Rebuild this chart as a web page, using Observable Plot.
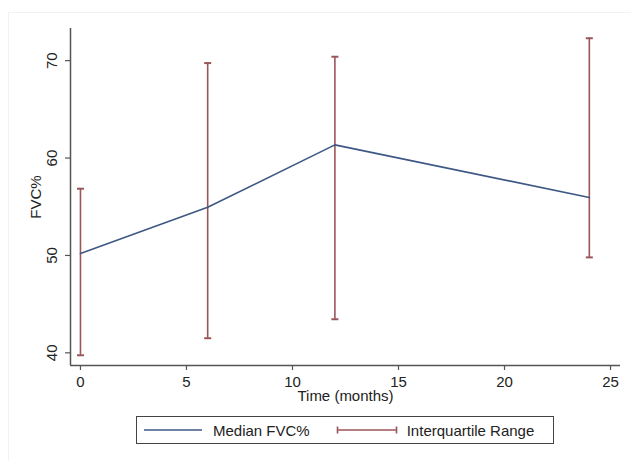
<!DOCTYPE html>
<html>
<head>
<meta charset="utf-8">
<script src="https://cdn.jsdelivr.net/npm/d3@7"></script>
<script src="https://cdn.jsdelivr.net/npm/@observablehq/plot@0.6"></script>
<style>
  html, body { margin: 0; padding: 0; background: #fff; }
  #wrap { position: relative; width: 631px; height: 461px; font-family: "Liberation Sans", Arial, sans-serif; }
  #border { position: absolute; left: 8px; top: 12px; width: 640px; height: 460px; border-left: 1px solid #eef3f8; border-top: 1px solid #eef3f8; }
  #legend { position: absolute; left: 136px; top: 416px; width: 418px; height: 28px; border: 1px solid #444; box-sizing: border-box;
            display: flex; align-items: center; font-size: 15px; color: #222; }
  #legend .item { display: flex; align-items: center; }
  #legend svg { display: block; }
</style>
</head>
<body>
<div id="wrap">
  <div id="border"></div>
  <div id="chart"></div>
  <div id="legend"></div>
</div>
<script>
// Data
const months = [0, 6, 12, 24];
const medianFVC = [50.2, 54.95, 61.35, 55.95];
const q1FVC = [39.75, 41.5, 43.45, 49.8];
const q3FVC = [56.85, 69.75, 70.4, 72.3];
const xTicks = [0, 5, 10, 15, 20, 25];
const yTicks = [40, 50, 60, 70];
const xDomain = [-0.47, 25.47];
const yDomain = [38.7, 73.3];
const seriesNames = ["Median FVC%", "Interquartile Range"];
const lineColor = "#3d5884";
const barColor = "#9a5559";
const axisColor = "#555";

const data = months.map((t, i) => ({t, med: medianFVC[i], lo: q1FVC[i], hi: q3FVC[i]}));

const capSymbol = {
  draw(ctx, size) {
    const w = Math.sqrt(size / Math.PI);
    ctx.moveTo(-w, 0);
    ctx.lineTo(w, 0);
  }
};

const chart = Plot.plot({
  width: 631,
  height: 461,
  marginLeft: 70,
  marginRight: 11,
  marginTop: 28,
  marginBottom: 96,
  style: {fontFamily: "Liberation Sans, Arial, sans-serif", fontSize: "15px", color: "#222", background: "transparent"},
  x: {domain: xDomain},
  y: {domain: yDomain},
  marks: [
    Plot.ruleX([xDomain[0]], {y1: yDomain[0], y2: yDomain[1], stroke: axisColor, strokeWidth: 1.5}),
    Plot.ruleY([yDomain[0]], {x1: xDomain[0], x2: xDomain[1], stroke: axisColor, strokeWidth: 1.5}),
    Plot.axisX({ticks: xTicks, tickSize: 5, tickPadding: 6, label: null, stroke: axisColor, strokeWidth: 1.2, fontSize: 15}),
    Plot.axisY({ticks: yTicks, tickSize: 5, tickFormat: () => "", label: null, stroke: axisColor, strokeWidth: 1.2}),
    Plot.text(yTicks, {y: d => d, text: d => String(d), frameAnchor: "left", rotate: -90, dx: -18, textAnchor: "middle", fontSize: 15, fill: "#222"}),
    Plot.text(["FVC%"], {frameAnchor: "left", rotate: -90, dx: -34, textAnchor: "middle", fontSize: 15, fill: "#222"}),
    Plot.text(["Time (months)"], {frameAnchor: "bottom", dy: 35, textAnchor: "middle", fontSize: 15, fill: "#222"}),
    Plot.ruleX(data, {x: "t", y1: "lo", y2: "hi", stroke: barColor, strokeWidth: 1.6}),
    Plot.dot(data, {x: "t", y: "hi", symbol: capSymbol, r: 3.5, stroke: barColor, strokeWidth: 2, fill: "none"}),
    Plot.dot(data, {x: "t", y: "lo", symbol: capSymbol, r: 3.5, stroke: barColor, strokeWidth: 2, fill: "none"}),
    Plot.line(data, {x: "t", y: "med", stroke: lineColor, strokeWidth: 1.6})
  ]
});
document.getElementById("chart").appendChild(chart);

// Legend
const legend = document.getElementById("legend");
legend.innerHTML = `
  <div class="item" style="margin-left:6px">
    <svg width="60" height="10"><line x1="1" y1="5" x2="59" y2="5" stroke="${lineColor}" stroke-width="1.6"/></svg>
    <span style="margin-left:10px">${seriesNames[0]}</span>
  </div>
  <div class="item" style="margin-left:26px">
    <svg width="62" height="10"><line x1="1" y1="5" x2="61" y2="5" stroke="${barColor}" stroke-width="1.6"/>
      <line x1="1.5" y1="1.5" x2="1.5" y2="8.5" stroke="${barColor}" stroke-width="1.6"/>
      <line x1="60.5" y1="1.5" x2="60.5" y2="8.5" stroke="${barColor}" stroke-width="1.6"/></svg>
    <span style="margin-left:9px">${seriesNames[1]}</span>
  </div>`;
</script>
</body>
</html>
